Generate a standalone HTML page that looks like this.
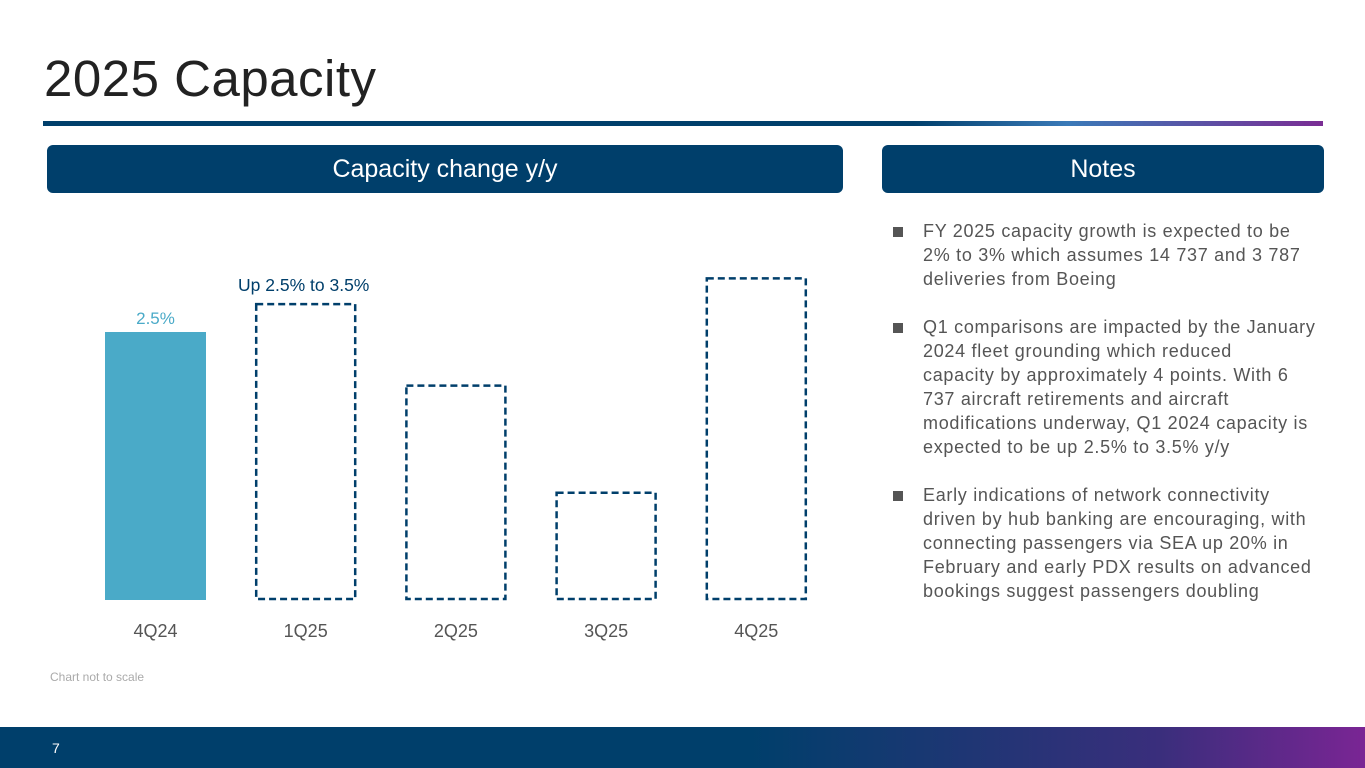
<!DOCTYPE html>
<html><head><meta charset="utf-8"><style>
body{margin:0;width:1365px;height:768px;position:relative;overflow:hidden;background:#fff;font-family:"Liberation Sans",sans-serif;}
.abs{position:absolute;}
.hdr{background:#003f6b;color:#fff;border-radius:6px;text-align:center;font-size:25px;line-height:48px;}
.notes{left:893px;top:219px;width:460px;color:#555;font-size:18px;letter-spacing:0.7px;line-height:24px;white-space:nowrap;}
.note{position:relative;padding-left:30px;margin-bottom:24px;}
.note:before{content:"";position:absolute;left:0;top:8px;width:10px;height:10px;background:#555;}
</style></head><body>
<div class="abs" style="left:44px;top:49px;font-size:51px;letter-spacing:0.5px;color:#222;">2025 Capacity</div>
<div class="abs" style="left:43px;top:121px;width:1280px;height:5px;background:linear-gradient(90deg,#003f6b 0%,#003f6b 68%,#3a7ab8 80%,#7a2d94 100%);"></div>
<div class="abs hdr" style="left:47px;top:145px;width:796px;height:48px;">Capacity change y/y</div>
<div class="abs hdr" style="left:882px;top:145px;width:442px;height:48px;">Notes</div>
<svg class="abs" style="left:0;top:0" width="860" height="700" id="chart"></svg>
<div class="abs" style="left:50px;top:670px;font-size:12px;color:#aaa;">Chart not to scale</div>
<div class="abs notes">
<div class="note">FY 2025 capacity growth is expected to be<br>2% to 3% which assumes 14 737 and 3 787<br>deliveries from Boeing</div>
<div class="note">Q1 comparisons are impacted by the January<br>2024 fleet grounding which reduced<br>capacity by approximately 4 points. With 6<br>737 aircraft retirements and aircraft<br>modifications underway, Q1 2024 capacity is<br>expected to be up 2.5% to 3.5% y/y</div>
<div class="note">Early indications of network connectivity<br>driven by hub banking are encouraging, with<br>connecting passengers via SEA up 20% in<br>February and early PDX results on advanced<br>bookings suggest passengers doubling</div>
</div>
<div class="abs" style="left:0;top:727px;width:1365px;height:41px;background:linear-gradient(90deg,#003f6b 0%,#003f6b 55%,#3a2e7c 85%,#7a2594 100%);"></div>
<div class="abs" style="left:52px;top:740px;color:#fff;font-size:14px;">7</div>
<script>
const categories=["4Q24","1Q25","2Q25","3Q25","4Q25"];
const values=[2.5,2.76,2.0,1.0,3.0];
const actual=[true,false,false,false,false];
const valueLabels=["2.5%","","","",""];
const svg=document.getElementById('chart');
const NS="http://www.w3.org/2000/svg";
const baseY=600,pxPerUnit=107.2,x0=105,step=150.2,bw=101;
const yS=v=>baseY-v*pxPerUnit, xS=i=>x0+i*step;
function mk(t,a){const e=document.createElementNS(NS,t);for(const k in a)e.setAttribute(k,a[k]);svg.appendChild(e);return e;}
categories.forEach((c,i)=>{
  const x=xS(i),y=yS(values[i]);
  let r;
  if(actual[i]) r=mk('rect',{x:x,y:y,width:bw,height:baseY-y,fill:'#4aaac8'});
  else r=mk('rect',{x:x+1,y:y,width:bw-2,height:baseY-y-1,fill:'none',stroke:'#003f6b','stroke-width':2.5,'stroke-dasharray':'7,4'});
  
  
  const t=mk('text',{x:x+bw/2,y:637,'text-anchor':'middle','font-size':18,fill:'#555','font-family':'Liberation Sans'});
  t.textContent=c;
  
  
  if(valueLabels[i]){
    const v=mk('text',{x:x+bw/2,y:y-8,'text-anchor':'middle','font-size':17,fill:'#4aaac8','font-family':'Liberation Sans'});
    v.textContent=valueLabels[i];
    
    
  }
});
const a=mk('text',{x:xS(1)+bw/2-2,y:yS(values[1])-13,'text-anchor':'middle','font-size':17.5,fill:'#003f6b','font-family':'Liberation Sans'});
a.textContent="Up 2.5% to 3.5%";


</script>
</body></html>
